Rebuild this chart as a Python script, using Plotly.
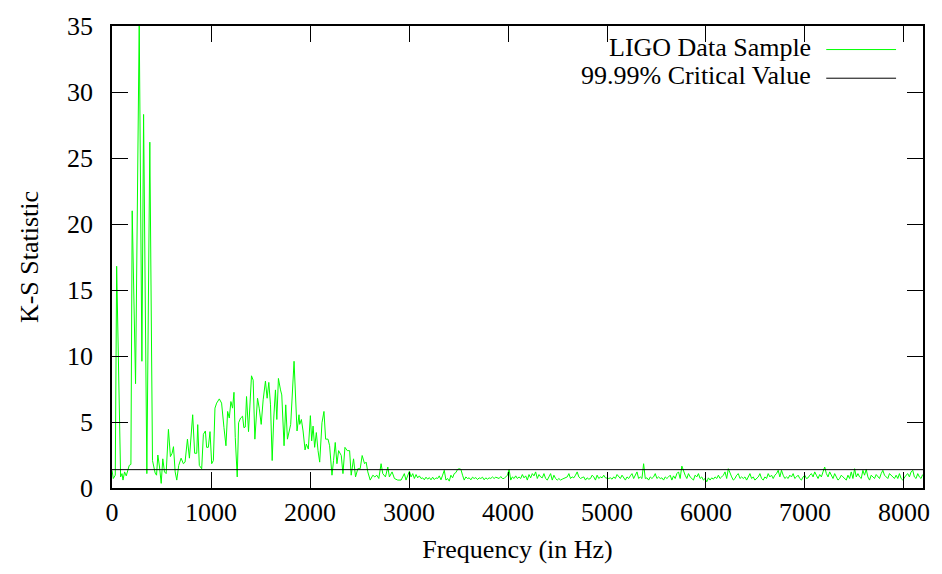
import plotly.graph_objects as go

# ---- data ----
# low-frequency part (irregularly read points): frequency in Hz, K-S statistic
low_freq = [0, 13, 33, 47, 87, 101, 111, 127, 144, 158, 174, 191, 204, 238, 275, 302, 319, 352, 382,
            409, 423, 436, 450, 463, 480, 497, 513, 530, 547, 570, 590, 607, 621, 638, 654, 674, 698,
            721, 738, 762, 782, 799, 815, 835, 856, 866, 882, 906, 923, 943, 956, 973, 990, 1007, 1024,
            1040, 1057, 1084, 1107, 1131, 1151, 1168, 1185, 1201, 1218, 1232, 1245, 1265, 1279, 1299,
            1319, 1332, 1346, 1359, 1379, 1409, 1426, 1443, 1470, 1487, 1507, 1527, 1550, 1567, 1584,
            1601, 1618, 1634, 1651, 1665, 1681, 1702, 1715, 1738, 1755, 1772, 1789, 1805, 1839, 1869,
            1889, 1896, 1913, 1930, 1950, 1963, 1983, 2004, 2017, 2031, 2047, 2064, 2081, 2098, 2121,
            2141, 2158, 2182, 2198, 2222, 2238, 2255, 2272, 2289, 2316, 2333, 2353, 2376, 2400, 2416,
            2440, 2460, 2483, 2507, 2527, 2551, 2567, 2584, 2608, 2635, 2655, 2675, 2695, 2718, 2735,
            2762, 2786, 2802, 2829, 2853, 2886, 2920, 2953, 2970]
low_ks = [1.34, 0.72, 0.97, 16.8, 0.84, 1.09, 0.60, 1.22, 0.92, 1.39, 1.71, 1.79, 21.0, 7.9, 35.3, 9.6,
          28.3, 1.09, 26.2, 2.08, 1.46, 1.13, 0.97, 2.5, 1.59, 0.35, 2.21, 1.22, 1.09, 4.44, 2.38, 2.63,
          3.13, 1.22, 0.60, 1.71, 2.26, 1.84, 1.96, 3.7, 2.26, 4.1, 5.55, 2.63, 2.63, 4.8, 1.71, 1.46,
          4.07, 4.32, 3.08, 3.08, 4.27, 1.84, 2.08, 6.05, 6.43, 6.75, 6.43, 4.57, 3.2, 5.8, 5.3, 6.55,
          6.05, 7.25, 3.83, 0.84, 4.94, 5.3, 5.44, 4.57, 4.62, 6.93, 4.27, 8.5, 8.17, 3.7, 6.8, 6.05,
          4.82, 6.68, 8.1, 6.8, 8.0, 6.3, 2.08, 5.3, 7.43, 5.19, 8.3, 7.43, 7.05, 3.2, 6.3, 3.7, 4.32,
          4.82, 9.6, 4.32, 5.55, 4.82, 5.19, 4.32, 2.88, 3.33, 2.95, 5.48, 3.57, 4.69, 3.08, 4.2, 2.83,
          1.96, 4.94, 5.8, 3.7, 3.7, 3.2, 0.97, 2.08, 3.45, 1.84, 2.83, 2.46, 1.09, 3.08, 2.83, 2.83,
          0.97, 2.21, 0.84, 1.46, 1.46, 2.46, 1.84, 1.96, 1.22, 0.60, 0.97, 0.84, 0.97, 0.72, 1.84,
          1.09, 0.84, 1.59, 0.84, 1.22, 0.72, 0.60, 0.60, 1.09, 0.60]

# high-frequency part: evenly spaced bins starting at noise_start_hz
noise_start_hz = 3004
noise_bin_hz = 16.78
noise_ks = [
    1.27, 0.84, 1.09, 0.72, 1.02, 0.77, 0.92, 0.72, 0.77, 0.62, 0.82, 0.67, 0.79, 0.62, 0.82, 0.64,
    0.77, 0.72, 0.92, 0.62, 0.97, 1.34, 0.60, 0.72, 0.52, 0.97, 0.77, 1.09, 1.17, 1.41, 1.46, 1.41,
    0.97, 0.60, 0.84, 0.72, 0.77, 0.62, 0.82, 0.72, 0.79, 0.64, 0.77, 0.72, 0.82, 0.62, 0.77, 0.67,
    0.77, 0.72, 0.84, 0.72, 0.82, 0.77, 0.72, 0.87, 0.72, 0.72, 0.84, 0.97, 1.41, 0.60, 0.84, 0.72,
    0.92, 0.72, 0.84, 0.72, 1.02, 0.77, 0.92, 0.60, 1.02, 0.77, 1.09, 0.92, 1.22, 0.72, 1.02, 0.84,
    0.77, 1.09, 0.72, 0.60, 0.84, 1.09, 0.60, 0.97, 0.72, 0.60,
    0.72, 0.60, 0.67, 0.72, 0.77, 0.84, 1.09, 0.72, 0.84, 0.77, 0.97, 1.22, 0.84, 0.72, 0.79, 0.84,
    0.60, 0.77, 0.67, 0.72, 0.97, 0.84, 0.60, 0.97, 0.72, 0.84, 0.77, 0.97, 0.77, 0.72, 0.72, 0.77,
    0.67, 0.84, 0.72, 1.02, 0.84, 0.72, 0.97, 0.77, 0.60, 0.84, 0.72, 0.92, 1.09, 0.72, 0.92, 1.22,
    0.72, 0.84, 0.72, 1.84, 0.72, 0.77, 0.60, 0.84, 0.72, 0.84, 1.09, 0.72, 0.84, 0.72, 0.77, 0.60,
    0.84, 0.72, 0.84, 0.97, 0.60, 0.92, 0.72, 1.09, 1.22, 0.72, 1.66, 1.22, 0.97, 0.72, 1.09, 0.84,
    0.72, 0.60, 0.97, 0.84, 1.09, 0.72, 0.84, 0.60, 0.72, 0.47, 0.77, 0.60, 0.77, 0.67, 0.84, 0.72,
    0.97, 0.72, 0.84, 0.97, 1.22, 0.72, 1.46, 1.09, 0.84, 0.60, 0.72, 0.97, 1.09, 0.72, 0.84, 0.72,
    0.84, 0.60, 0.84, 1.09, 0.72, 0.84, 0.60, 0.72, 0.84, 1.09, 0.72, 0.60, 0.84, 0.72, 1.09, 0.84,
    0.97, 0.72, 0.97, 1.09, 1.34, 0.84, 1.34, 0.97, 0.72, 0.84, 0.72, 0.97, 0.84, 1.09, 0.72, 0.84,
    0.97, 0.72, 0.60, 0.84, 0.97, 0.72, 0.77, 0.97, 1.09, 0.84, 1.22, 0.97, 0.72, 1.02, 0.84, 1.22,
    1.59, 1.09, 0.84, 1.22, 0.97, 0.72, 1.09, 0.84, 0.60, 0.72, 0.97, 0.84, 0.72, 0.60, 0.97, 0.72,
    1.22, 0.72, 1.46, 0.84, 1.09, 0.84, 0.72, 1.34, 0.97, 1.41, 0.84, 0.60, 0.97, 0.84, 0.72, 1.02,
    0.84, 0.72, 1.09, 1.34, 0.97, 0.84, 0.72, 1.09, 0.97, 0.84, 0.72, 0.97, 0.72, 1.09, 0.72, 0.60,
    0.84, 0.97, 1.09, 0.84, 1.22, 1.34, 0.84, 0.72, 1.09, 0.84, 0.72, 1.02,
]
noise_freq = [noise_start_hz + noise_bin_hz * i for i in range(len(noise_ks))]

freq = low_freq + noise_freq
ks = low_ks + noise_ks

critical_value = 1.39
x_range = [0, 8192]
y_range = [0, 35]
x_ticks = [0, 1000, 2000, 3000, 4000, 5000, 6000, 7000, 8000]
y_ticks = [0, 5, 10, 15, 20, 25, 30, 35]

series_names = ["LIGO Data Sample", "99.99% Critical Value"]
series_colors = ["#00ff00", "#000000"]

FONT = "Liberation Serif"
FS = 26

fig = go.Figure()
fig.add_trace(go.Scatter(x=freq, y=ks, mode="lines", name=series_names[0],
                         line=dict(color=series_colors[0], width=1)))
fig.add_trace(go.Scatter(x=x_range, y=[critical_value, critical_value], mode="lines",
                         name=series_names[1], line=dict(color=series_colors[1], width=1)))

axis_common = dict(showline=True, linecolor="black", linewidth=1.5, mirror="ticks",
                   ticks="inside", ticklen=16, tickwidth=1.2, tickcolor="black",
                   showgrid=False, zeroline=False,
                   tickfont=dict(family=FONT, size=FS, color="black"))

fig.update_xaxes(range=x_range, tickvals=x_ticks, ticklabelstandoff=0,
                 title=dict(text="Frequency (in Hz)", font=dict(family=FONT, size=FS, color="black"),
                            standoff=14),
                 **axis_common)
fig.update_yaxes(range=y_range, tickvals=y_ticks, ticklabelstandoff=12,
                 title=dict(text="K-S Statistic", font=dict(family=FONT, size=FS, color="black"),
                            standoff=21),
                 **axis_common)

# gnuplot-style legend: text on the left, line sample on the right
legend_text_y = [0.953, 0.892]
legend_line_y = [0.949, 0.887]
for name, color, ty, ly in zip(series_names, series_colors, legend_text_y, legend_line_y):
    fig.add_annotation(xref="paper", yref="paper", x=0.8647, y=ty, text=name, showarrow=False,
                       xanchor="right", yanchor="middle",
                       font=dict(family=FONT, size=FS, color="black"))
    fig.add_shape(type="line", xref="paper", yref="paper", x0=0.8807, x1=0.9668, y0=ly, y1=ly,
                  line=dict(color=color, width=1))

fig.update_layout(width=942, height=574, showlegend=False,
                  margin=dict(l=112, r=17, t=19, b=86),
                  paper_bgcolor="white", plot_bgcolor="white",
                  font=dict(family=FONT, size=FS, color="black"))

fig.write_html("out.html")
